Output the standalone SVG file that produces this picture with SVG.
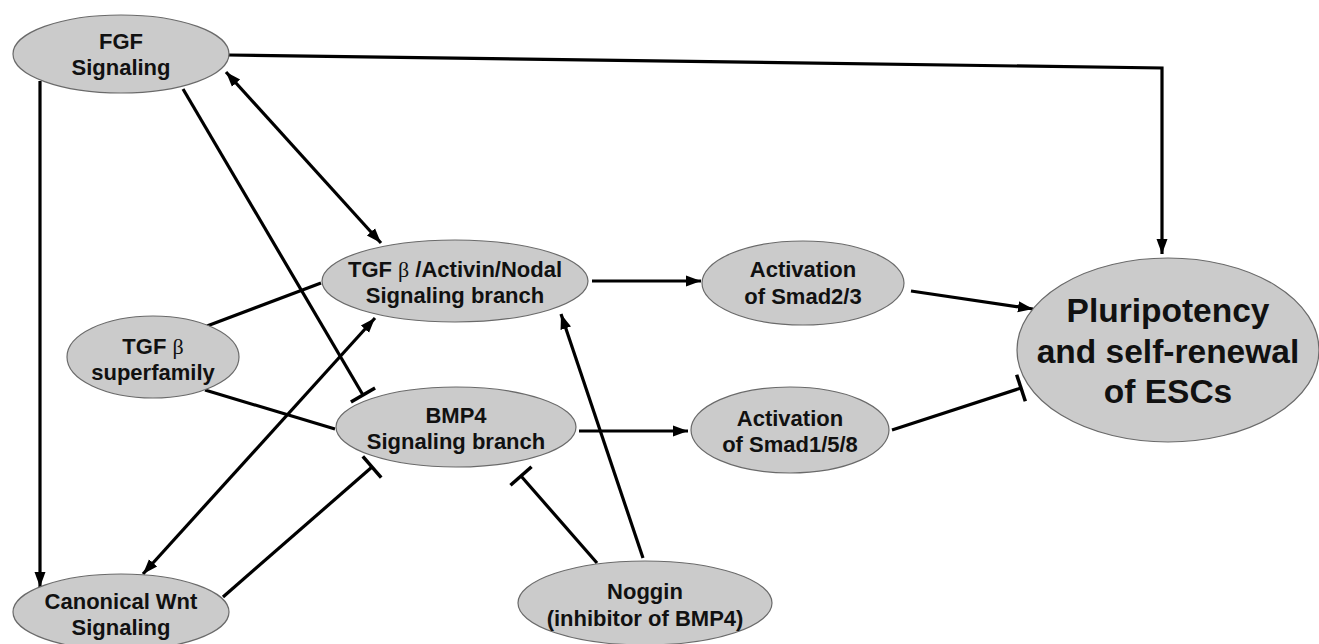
<svg xmlns="http://www.w3.org/2000/svg" width="1319" height="644" viewBox="0 0 1319 644">
<style>
.n{fill:#cbcbcb;stroke:#6a6a6a;stroke-width:1.2}
.t{font-family:"Liberation Sans",Arial,sans-serif;font-weight:bold;font-size:22px;fill:#111;text-anchor:middle}
.big{font-size:33.5px}
.g{font-family:"Liberation Serif","Times New Roman",serif;font-weight:normal}
.c{fill:none;stroke:#000;stroke-width:3.2}
.a{marker-end:url(#arr)}
.s{marker-start:url(#arrs)}
.i{marker-end:url(#bar)}
</style>
<defs>
<marker id="arr" markerUnits="userSpaceOnUse" markerWidth="16" markerHeight="14" viewBox="0 0 16 14" refX="15" refY="7" orient="auto"><path d="M0,1.5 L15,7 L0,12.5 z" fill="#000"/></marker>
<marker id="arrs" markerUnits="userSpaceOnUse" markerWidth="16" markerHeight="14" viewBox="0 0 16 14" refX="1" refY="7" orient="auto"><path d="M16,1.5 L1,7 L16,12.5 z" fill="#000"/></marker>
<marker id="bar" markerUnits="userSpaceOnUse" markerWidth="6" markerHeight="32" viewBox="0 0 6 32" refX="3" refY="16" orient="auto"><path d="M3,2 L3,30" stroke="#000" stroke-width="3.5"/></marker>
</defs>
<rect width="1319" height="644" fill="#fff"/>
<g id="connectors">
<path class="c a" d="M228,55 L1162,68 L1162,254"/>
<path class="c a" d="M40,81 L40,587"/>
<path class="c i" d="M183,89 L363,395"/>
<path class="c a s" d="M226,72 L381,243"/>
<path class="c" d="M207,326 L321,283"/>
<path class="c" d="M205,390 L335,429"/>
<path class="c a s" d="M143,574 L375,318"/>
<path class="c i" d="M223,597 L372,467"/>
<path class="c i" d="M597,563 L521,476"/>
<path class="c a" d="M643,558 L561,314"/>
<path class="c a" d="M592,281 L701,281"/>
<path class="c a" d="M579,431 L688,431"/>
<path class="c a" d="M911,291 L1033,309"/>
<path class="c i" d="M892,430 L1021,388"/>
</g>
<g id="fgf"><ellipse class="n" cx="121" cy="54" rx="108" ry="39"/><text class="t" x="121" y="49">FGF</text><text class="t" x="121" y="75">Signaling</text></g>
<g id="tgfsuper"><ellipse class="n" cx="153" cy="357" rx="86" ry="41"/><text class="t" x="153" y="354">TGF <tspan class="g">β</tspan></text><text class="t" x="153" y="380">superfamily</text></g>
<g id="tgfbranch"><ellipse class="n" cx="455" cy="281" rx="133" ry="41"/><text class="t" x="455" y="277">TGF <tspan class="g">β</tspan> /Activin/Nodal</text><text class="t" x="455" y="303">Signaling branch</text></g>
<g id="bmp4"><ellipse class="n" cx="456" cy="427" rx="120" ry="40"/><text class="t" x="456" y="423">BMP4</text><text class="t" x="456" y="449">Signaling branch</text></g>
<g id="smad23"><ellipse class="n" cx="803" cy="283" rx="101" ry="42"/><text class="t" x="803" y="277">Activation</text><text class="t" x="803" y="304">of Smad2/3</text></g>
<g id="smad158"><ellipse class="n" cx="790" cy="430" rx="99" ry="43"/><text class="t" x="790" y="426">Activation</text><text class="t" x="790" y="452">of Smad1/5/8</text></g>
<g id="pluri"><ellipse class="n" cx="1168" cy="350" rx="151" ry="92"/><text class="t big" x="1168" y="322">Pluripotency</text><text class="t big" x="1168" y="363">and self-renewal</text><text class="t big" x="1168" y="403">of ESCs</text></g>
<g id="wnt"><ellipse class="n" cx="121" cy="612" rx="108" ry="38"/><text class="t" x="121" y="609">Canonical Wnt</text><text class="t" x="121" y="635">Signaling</text></g>
<g id="noggin"><ellipse class="n" cx="645" cy="603" rx="127" ry="42"/><text class="t" x="645" y="599">Noggin</text><text class="t" x="645" y="626">(inhibitor of BMP4)</text></g>
</svg>
